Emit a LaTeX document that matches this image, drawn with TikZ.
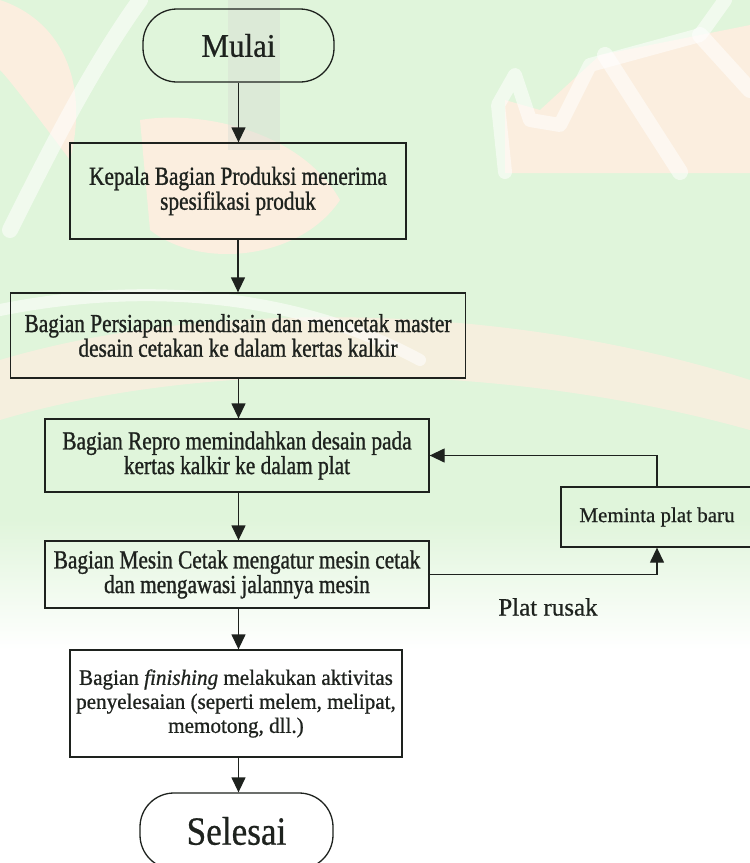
\documentclass[tikz,border=0pt]{standalone}
\usepackage{fontspec}
\setmainfont[FakeBold=0.6]{Liberation Serif}
\newfontfamily\boxfont[FakeStretch=0.82,FakeBold=1.0]{Liberation Serif}
\newfontfamily\lastfont[FakeStretch=0.96,FakeBold=0.8]{Liberation Serif}
\newfontfamily\startfont[FakeStretch=0.94,FakeBold=0.6]{Liberation Serif}
\newfontfamily\endfont[FakeStretch=0.88,FakeBold=0.6]{Liberation Serif}
\usetikzlibrary{arrows.meta}
\definecolor{ink}{HTML}{1E221E}
\definecolor{wmgreen}{HTML}{E0F5DB}
\definecolor{wmpeach}{HTML}{FBEEDF}
\definecolor{wmgray}{HTML}{D8DED4}
\tikzset{
  terminal/.style={draw=ink, line width=1.3pt, rounded corners=34pt, align=center,
    inner sep=0pt, text=ink},
  procbox/.style={draw=ink, line width=1.3pt, align=center, inner sep=0pt, text=ink,
    font=\boxfont\fontsize{26}{23}\selectfont},
  flow/.style={draw=ink, line width=1.3pt, -{Triangle[width=14pt,length=15pt]}},
  wmband/.style={draw=white, line cap=round, line join=round, opacity=0.55},
}
\begin{document}
\begin{tikzpicture}[x=1pt,y=-1pt]
\useasboundingbox (0,0) rectangle (750,863);
% faint paper watermark behind the chart
\fill[white] (0,0) rectangle (750,863);
\fill[wmgreen] (0,0) rectangle (750,520);
\shade[top color=wmgreen, bottom color=white] (0,519) rectangle (750,650);
\fill[wmpeach] (0,0) .. controls (60,20) and (90,80) .. (70,160)
  .. controls (40,120) and (10,80) .. (0,70) -- cycle;
\fill[wmpeach] (140,120) .. controls (200,110) and (300,130) .. (340,200)
  .. controls (300,260) and (200,270) .. (150,230) -- cycle;
\fill[wmpeach] (505,173) -- (505,100) -- (540,110) -- (600,55) -- (750,25)
  -- (750,173) -- cycle;
\fill[wmpeach, opacity=0.8] (0,360) .. controls (200,300) and (500,300) .. (750,380)
  -- (750,430) .. controls (500,360) and (200,360) .. (0,420) -- cycle;
\draw[wmband, line width=16pt] (10,230) .. controls (50,150) and (90,70) .. (140,0);
\draw[wmband, line width=12pt] (0,310) .. controls (150,280) and (300,295) .. (420,360);
\draw[wmband, line width=14pt] (505,172) -- (498,105) -- (515,75) -- (530,120)
  -- (560,125) -- (590,65) -- (700,35) -- (725,0);
\draw[wmband, line width=16pt] (605,55) -- (680,172);
\draw[wmband, line width=16pt] (700,35) -- (750,90);
\fill[wmgray, opacity=0.45] (228,0) rectangle (280,150);

% process chain
\node[terminal, minimum width=191pt, minimum height=73pt,
  font=\startfont\fontsize{33}{36}\selectfont] (start) at (238.5,45.5) {Mulai};
\node[procbox, minimum width=336pt, minimum height=96pt] (spec) at (238,191)
  {Kepala Bagian Produksi menerima\\spesifikasi produk};
\node[procbox, minimum width=455pt, minimum height=85pt] (prep) at (238,335.5)
  {Bagian Persiapan mendisain dan mencetak master\\desain cetakan ke dalam kertas kalkir};
\node[procbox, minimum width=384pt, minimum height=73pt] (repro) at (237,455.5)
  {Bagian Repro memindahkan desain pada\\kertas kalkir ke dalam plat};
\node[procbox, minimum width=384pt, minimum height=67pt] (press) at (237,574.5)
  {Bagian Mesin Cetak mengatur mesin cetak\\dan mengawasi jalannya mesin};
\node[procbox, minimum width=332pt, minimum height=107pt,
  font=\lastfont\fontsize{22}{24}\selectfont] (finish) at (236,703.5)
  {Bagian \textit{finishing} melakukan aktivitas\\penyelesaian (seperti melem, melipat,\\memotong, dll.)};
\node[terminal, minimum width=193pt, minimum height=76pt,
  font=\endfont\fontsize{40}{44}\selectfont] (stop) at (236.5,831) {Selesai};

% rework loop for a damaged plate
\node[procbox, minimum width=192pt, minimum height=60pt,
  font=\fontsize{21}{24}\selectfont] (newplate) at (657,517) {Meminta plat baru};
\node[text=ink, font=\fontsize{25}{28}\selectfont] (damaged) at (548,607) {Plat rusak};

\draw[flow] (start) -- (start |- spec.north);
\draw[flow] (spec) -- (spec |- prep.north);
\draw[flow] (prep.south -| start) -- (start |- repro.north);
\draw[flow] (repro.south -| start) -- (start |- press.north);
\draw[flow] (press.south -| start) -- (start |- finish.north);
\draw[flow] (finish.south -| start) -- (start |- stop.north);
\draw[flow] (press.east) -| (newplate.south);
\draw[flow] (newplate.north) |- (repro.east);
\end{tikzpicture}
\end{document}
